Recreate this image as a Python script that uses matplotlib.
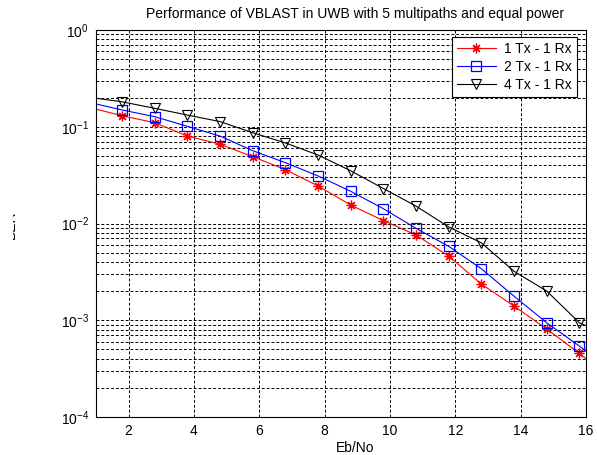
import matplotlib
matplotlib.use("Agg")
import matplotlib.pyplot as plt
from matplotlib.ticker import LogLocator, NullFormatter, FixedLocator
from matplotlib.transforms import Bbox, TransformedBbox

plt.rcParams['font.family'] = ['Liberation Sans', 'DejaVu Sans']

# Eb/No points (first and last entries are curve end points without markers)
ebno = [1.0, 1.8, 2.8, 3.8, 4.8, 5.8, 6.8, 7.8, 8.8, 9.8, 10.8, 11.8, 12.8, 13.8, 14.8, 15.8, 16.0]

ber_1tx = [0.152, 0.130, 0.110, 0.080, 0.066, 0.049, 0.036, 0.0244, 0.0155, 0.0107,
           0.0076, 0.0046, 0.00236, 0.0014, 0.00081, 0.000454, 0.00040]
ber_2tx = [0.172, 0.149, 0.127, 0.101, 0.080, 0.0565, 0.0425, 0.031, 0.0215, 0.0142,
           0.0089, 0.0058, 0.0034, 0.00177, 0.00094, 0.00054, 0.00048]
ber_4tx = [0.197, 0.181, 0.155, 0.132, 0.113, 0.0867, 0.068, 0.051, 0.035, 0.023,
           0.0151, 0.0092, 0.0063, 0.0032, 0.0020, 0.00094, 0.00088]

labels = ['1 Tx - 1 Rx', '2 Tx - 1 Rx', '4 Tx - 1 Rx']
title = 'Performance of VBLAST in UWB with 5 multipaths and equal power'
xticks = [2, 4, 6, 8, 10, 12, 14, 16]

W, H = 597, 455
fig = plt.figure(figsize=(W / 100, H / 100), dpi=100)
fig.patch.set_facecolor('white')
ax = fig.add_axes([96 / W, 1 - 417 / H, (586 - 96) / W, (417 - 30) / H])

mk = slice(1, -1)
ax.semilogy(ebno, ber_1tx, color='#ff0000', lw=0.8, marker=(8, 2, 0), ms=7, mew=0.9,
            markevery=mk, label=labels[0])
ax.semilogy(ebno, ber_2tx, color='#0000ff', lw=0.8, marker='s', ms=7.5, mfc='none', mew=0.9,
            markevery=mk, label=labels[1])
ax.semilogy(ebno, ber_4tx, color='black', lw=0.8, marker='v', ms=7.5, mfc='none', mew=0.8,
            markevery=mk, label=labels[2])

ax.set_xlim(1, 16)
ax.set_ylim(1e-4, 1)
ax.xaxis.set_major_locator(FixedLocator(xticks))
ax.set_xticklabels([str(t) for t in xticks])
ax.yaxis.set_major_locator(LogLocator(base=10, numticks=10))
ax.yaxis.set_minor_locator(LogLocator(base=10, subs=range(2, 10), numticks=20))
ax.yaxis.set_minor_formatter(NullFormatter())

ax.grid(True, which='major', axis='both', color='black', ls=(0, (3, 2)), lw=0.7)
ax.grid(True, which='minor', axis='y', color='black', ls=(0, (3, 2)), lw=0.7)
ax.tick_params(which='both', direction='in', top=False, right=False, labelsize=10,
               length=0, pad=5)
for s in ax.spines.values():
    s.set_linewidth(0.8)

ax.set_xlabel('Eb/No', fontsize=10)
ax.xaxis.set_label_coords((355 - 96) / (586 - 96), -(448 - 417) / (417 - 30))
ax.xaxis.label.set_va('center')

fig.text(355 / W, 1 - 14 / H, title, ha='center', va='center', fontsize=10)
ylab = fig.text(17.5 / W, 1 - 225 / H, 'BER', rotation=90, ha='right', va='center', fontsize=10)
ylab.set_clip_box(TransformedBbox(Bbox([[13 / W, 0], [1, 1]]), fig.transFigure))
ylab.set_clip_on(True)

leg = ax.legend(loc='upper right', bbox_to_anchor=((577 - 96) / (586 - 96), (417 - 37) / (417 - 30)),
                fancybox=False, framealpha=1, edgecolor='black', fontsize=10,
                borderaxespad=0, handlelength=2.8, labelspacing=0.3, borderpad=0.35,
                handletextpad=0.6)
leg.get_frame().set_linewidth(0.8)

fig.savefig('out.png', dpi=100, facecolor='white')
